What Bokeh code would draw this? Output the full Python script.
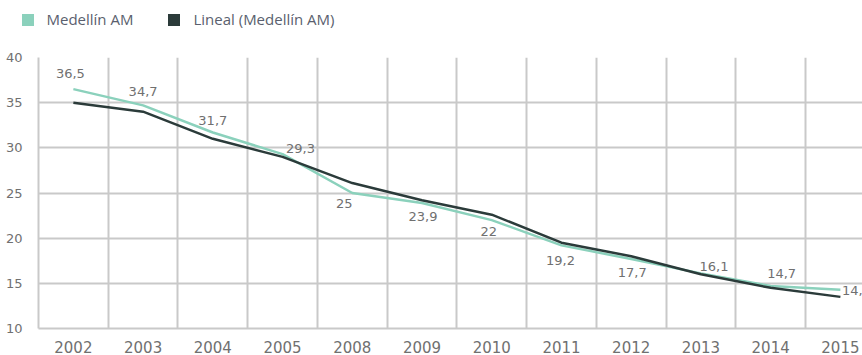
from bokeh.plotting import figure
from bokeh.layouts import column
from bokeh.models import (ColumnDataSource, Range1d, FixedTicker, Legend, LegendItem)
from bokeh.core.properties import value
from bokeh.embed import file_html
from bokeh.resources import INLINE

# ---- data ----
categories = ["2002", "2003", "2004", "2005", "2008", "2009", "2010",
              "2011", "2012", "2013", "2014", "2015"]
medellin = [36.5, 34.7, 31.7, 29.3, 25.0, 23.9, 22.0, 19.2, 17.7, 16.1, 14.7, 14.3]
medellin_labels = ["36,5", "34,7", "31,7", "29,3", "25", "23,9", "22",
                   "19,2", "17,7", "16,1", "14,7", "14,3"]
lineal = [35.0, 34.0, 31.0, 29.0, 26.1, 24.2, 22.6, 19.5, 18.0, 16.0, 14.5, 13.5]
y_ticks = [10, 15, 20, 25, 30, 35, 40]
series_names = ["Medellín AM", "Lineal (Medellín AM)"]

# ---- styles ----
label_dx = [-3, 0, 0, 18, -8, 1, -3, -1, 1, 13, 11, 16]
label_dy = [-16, -14, -12, -6, 10, 14, 11, 15, 14, -7, -13, 1]
GREEN = "#8bd1bc"
DARK = "#2b3b3a"
GRID = "#c9c9c9"
TXT = "#707070"
FONT = "DejaVu Sans"

xs = list(range(len(categories)))
src = ColumnDataSource(dict(x=xs, m=medellin, l=lineal, lab=medellin_labels,
                            dx=label_dx, dy=label_dy))

# ---- main chart ----
p = figure(width=862, height=310, output_backend="svg", toolbar_location=None,
           x_range=Range1d(-0.5, 11.317), y_range=Range1d(10, 40),
           min_border_left=38, min_border_right=0, min_border_top=12,
           min_border_bottom=21)
p.outline_line_color = None
p.frame_align = False

p.xaxis.ticker = FixedTicker(ticks=xs)
p.xaxis.major_label_overrides = {i: c for i, c in zip(xs, categories)}
p.yaxis.ticker = FixedTicker(ticks=y_ticks)
for ax in (p.xaxis[0], p.yaxis[0]):
    ax.axis_line_color = GRID
    ax.axis_line_width = 2
    ax.major_tick_line_color = None
    ax.minor_tick_line_color = None
    ax.major_label_text_color = TXT
    ax.major_label_text_font = FONT
p.xaxis.major_label_text_font_size = "15px"
p.yaxis.major_label_text_font_size = "13px"
p.xaxis.major_label_standoff = 6
p.yaxis.major_label_standoff = 10

p.xgrid.ticker = FixedTicker(ticks=[i + 0.5 for i in xs[:-1]])
p.ygrid.ticker = FixedTicker(ticks=y_ticks[1:])
for g in (p.xgrid[0], p.ygrid[0]):
    g.grid_line_color = GRID
    g.grid_line_width = 2

p.line("x", "m", source=src, line_color=GREEN, line_width=2.5)
p.line("x", "l", source=src, line_color=DARK, line_width=2.5)

p.text("x", "m", text="lab", source=src, x_offset="dx", y_offset="dy",
       text_align="center", text_baseline="middle",
       text_font=value(FONT), text_font_size="13px", text_color=TXT)

# ---- legend strip ----
lg = figure(width=862, height=45, output_backend="svg", toolbar_location=None,
            x_range=Range1d(0, 1), y_range=Range1d(0, 1),
            x_axis_location=None, y_axis_location=None,
            min_border_left=0, min_border_right=0, min_border_top=0,
            min_border_bottom=0)
lg.frame_align = False
lg.grid.visible = False
lg.outline_line_color = None
nan = float("nan")
swatch = ColumnDataSource(dict(left=[nan], right=[nan], top=[nan], bottom=[nan]))
r1 = lg.quad(left="left", right="right", top="top", bottom="bottom", source=swatch,
             fill_color=GREEN, line_color=None)
r2 = lg.quad(left="left", right="right", top="top", bottom="bottom", source=swatch,
             fill_color=DARK, line_color=None)
legend = Legend(items=[LegendItem(label=series_names[0], renderers=[r1]),
                       LegendItem(label=series_names[1], renderers=[r2])],
                orientation="horizontal", location=(19.5, 16),
                padding=0, margin=0, spacing=33,
                glyph_width=15, glyph_height=15, label_height=15,
                label_standoff=12,
                label_text_font="Open Sans", label_text_font_size="15px",
                label_text_color="#5a5f6e",
                border_line_color=None, background_fill_alpha=0)
lg.add_layout(legend, "center")

layout = column(lg, p, spacing=0)
open("out.html", "w").write(file_html(layout, INLINE))
